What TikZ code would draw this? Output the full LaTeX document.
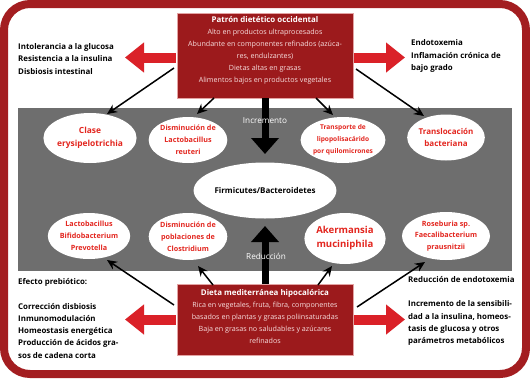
\documentclass[tikz,border=0pt]{standalone}
\usepackage{fontspec}
\setmainfont{Open Sans}
\usetikzlibrary{shapes.geometric,arrows.meta}
\definecolor{framered}{HTML}{A31D20}
\definecolor{boxred}{HTML}{9C1A1C}
\definecolor{boxline}{HTML}{E3A3A3}
\definecolor{boxtext}{HTML}{F7DEDE}
\definecolor{arrred}{HTML}{DA2128}
\definecolor{elltext}{HTML}{E3261F}
\definecolor{band}{HTML}{6E6E6E}
\tikzset{
  dietbox/.style={draw=boxline, line width=0.6pt, fill=boxred},
  boxtxt/.style={inner sep=0pt, align=center, text=boxtext, font=\fontsize{7.15}{12}\selectfont},
  sidetxt/.style={inner sep=0pt, align=left, font=\bfseries\fontsize{7.9}{12.2}\selectfont},
  ell/.style={ellipse, fill=white, inner sep=0pt, align=center, text=elltext, font=\bfseries\fontsize{7.2}{11.8}\selectfont},
  redarrow/.style={draw=arrred, line width=10pt, -{Triangle[length=19pt,width=29pt]}, arrred},
  thinarrow/.style={draw=black, line width=1.5pt, -{Stealth[length=10pt,width=9pt]}},
  bigarrow/.style={draw=black, line width=7pt, -{Triangle[length=16pt,width=27pt]}},
  bandtxt/.style={inner sep=0pt, text=white, font=\fontsize{8.2}{9}\selectfont}
}
\begin{document}
\begin{tikzpicture}[x=1pt,y=-1pt]
\useasboundingbox (0,0) rectangle (530,378);
\fill[white] (0,0) rectangle (530,378);
\draw[framered, line width=8pt, rounded corners=26pt] (4,4) rectangle (526,374);
% gray band
\fill[band] (18,108) rectangle (512,271);

% top box
\node[dietbox, minimum width=176pt, minimum height=85pt, inner sep=0pt] (top) at (265,55.5) {};
\node[boxtxt] (toptxt) at (265,50.5) {{\bfseries\fontsize{7.9}{12}\selectfont\color{white}Patrón dietético occidental}\\
Alto en productos ultraprocesados\\
Abundante en componentes refinados (azúca-\\
res, endulzantes)\\
Dietas altas en grasas\\
Alimentos bajos en productos vegetales};

% bottom box
\node[dietbox, minimum width=176pt, minimum height=71pt, inner sep=0pt] (bot) at (265,320) {};
\node[boxtxt] (bottxt) at (265,316.5) {{\bfseries\fontsize{7.9}{12}\selectfont\color{white}Dieta mediterránea hipocalórica}\\
Rica en vegetales, fruta, fibra, componentes\\
basados en plantas y grasas poliinsaturadas\\
Baja en grasas no saludables y azúcares\\
refinados};

% side texts
\node[sidetxt, anchor=west] (tl) at (18,59) {Intolerancia a la glucosa\\Resistencia a la insulina\\Disbiosis intestinal};
\node[sidetxt, anchor=west] (tr) at (411,56) {Endotoxemia\\Inflamación crónica de\\bajo grado};
\node[sidetxt, anchor=west] (bl) at (18,318.5) {Efecto prebiótico:\\[12.2pt]Corrección disbiosis\\Inmunomodulación\\Homeostasis energética\\Producción de ácidos gra-\\sos de cadena corta};
\node[sidetxt, anchor=west] (br) at (408,311) {Reducción de endotoxemia\\[12pt]Incremento de la sensibili-\\dad a la insulina, homeos-\\tasis de glucosa y otros\\parámetros metabólicos};

% red arrows
\coordinate (rtl) at (125,57.5);
\coordinate (rtr) at (405,57.5);
\coordinate (rbl) at (125,319.5);
\coordinate (rbr) at (405,319.5);
\draw[redarrow] (top.west |- rtl) ++(-1,0) -- (rtl);
\draw[redarrow] (top.east |- rtr) ++(1,0) -- (rtr);
\draw[redarrow] (bot.west |- rbl) ++(-1,0) -- (rbl);
\draw[redarrow] (bot.east |- rbr) ++(1,0) -- (rbr);

% ellipses
\node[ell, minimum width=74pt, minimum height=50pt, font=\bfseries\fontsize{8.4}{12.5}\selectfont] (e1) at (90,138) {Clase\\erysipelotrichia};
\node[ell, minimum width=72pt, minimum height=46pt] (e2) at (188,140) {Disminución de\\Lactobacillus\\reuteri};
\node[ell, minimum width=74pt, minimum height=46pt, font=\bfseries\fontsize{6.6}{12}\selectfont] (e3) at (343,140) {Transporte de\\lipopolisacárido\\por quilomicrones};
\node[ell, minimum width=76pt, minimum height=46pt, font=\bfseries\fontsize{8}{12}\selectfont] (e4) at (446,137.5) {Translocación\\bacteriana};
\node[ell, minimum width=116pt, minimum height=56pt, text=black, font=\bfseries\fontsize{8}{12}\selectfont] (e5) at (265,190.5) {Firmicutes/Bacteroidetes};
\node[ell, minimum width=76pt, minimum height=46pt] (e6) at (89,236) {Lactobacillus\\Bifidobacterium\\Prevotella};
\node[ell, minimum width=74pt, minimum height=47pt] (e7) at (188,236.5) {Disminución de\\poblaciones de\\Clostridium};
\node[ell, minimum width=76pt, minimum height=51pt, font=\bfseries\fontsize{9.6}{14}\selectfont] (e8) at (345,238.5) {Akermansia\\muciniphila};
\node[ell, minimum width=76pt, minimum height=48pt] (e9) at (446,236) {Roseburia sp.\\Faecalibacterium\\prausnitzii};

% thin black arrows
\coordinate (a1s) at (174,68);  \coordinate (a1e) at (107,114);
\coordinate (a2s) at (214,98);  \coordinate (a2e) at (197,114);
\coordinate (a3s) at (316,98);  \coordinate (a3e) at (333,115);
\coordinate (a4s) at (356,69);  \coordinate (a4e) at (424,116);
\coordinate (b1s) at (174,305); \coordinate (b1e) at (107,260);
\coordinate (b2s) at (213,285); \coordinate (b2e) at (198,266);
\coordinate (b3s) at (318,285); \coordinate (b3e) at (332,266);
\coordinate (b4s) at (357,307); \coordinate (b4e) at (425,262);
\foreach \n in {a1,a2,a3,a4,b1,b2,b3,b4}{\draw[thinarrow] (\n s) -- (\n e);}

% big arrows
\coordinate (dtip) at (265,154);
\coordinate (utip) at (265,226);
\draw[bigarrow] (top.south) -- (dtip);
\draw[bigarrow] (bot.north) -- (utip);
\node[bandtxt] (inc) at (265,121) {Incremento};
\node[bandtxt] (red) at (266,256.5) {Reducción};
\end{tikzpicture}
\end{document}
